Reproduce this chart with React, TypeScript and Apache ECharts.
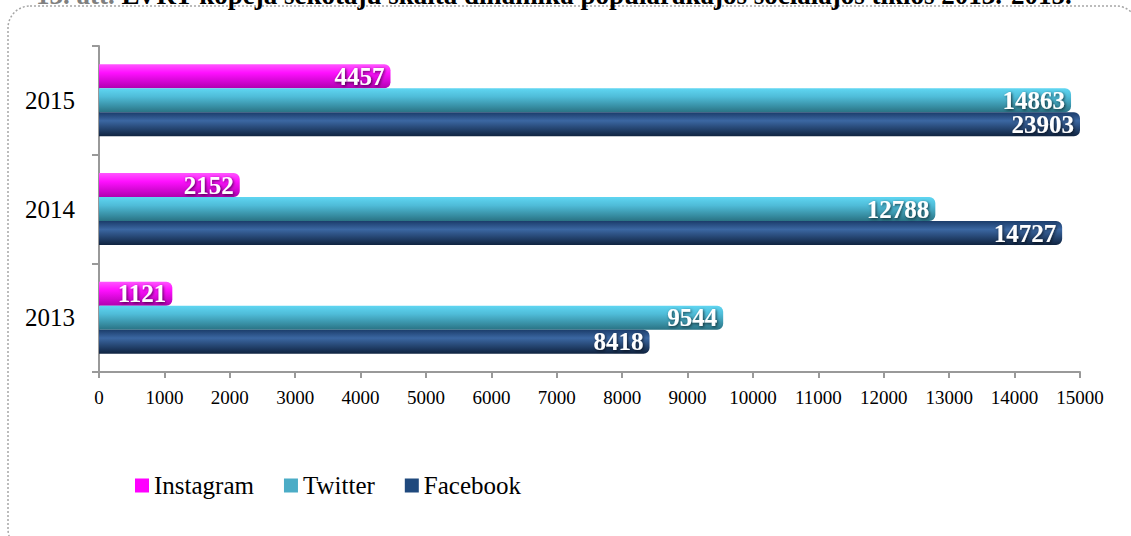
import React, { useEffect, useRef } from "react";
import * as echarts from "echarts";

const titleLead = "13. att.";
const titleText = "LVRT kopējā sekotāju skaita dinamika populārākajos sociālajos tīklos 2013.-2015.";
const years = ["2013", "2014", "2015"];
const seriesNames = ["Instagram", "Twitter", "Facebook"];
const legendColors = ["#FF00FF", "#4BACC6", "#1F497D"];
const instagram = [1121, 2152, 4457];
const twitter = [9544, 12788, 14863];
const facebook = [8418, 14727, 23903];

const FONT = "'Liberation Serif', 'Times New Roman', serif";

function grad(top: string, mid: string, bottom: string) {
  return new echarts.graphic.LinearGradient(0, 0, 0, 1, [
    { offset: 0, color: top },
    { offset: 0.35, color: mid },
    { offset: 1, color: bottom },
  ]);
}

export default function App() {
  const ref = useRef<HTMLDivElement>(null);
  useEffect(() => {
    if (!ref.current) return;
    const chart = echarts.init(ref.current, undefined, { renderer: "svg" });
    const label = {
      show: true,
      position: "insideRight",
      distance: 6,
      color: "#ffffff",
      fontFamily: FONT,
      fontWeight: "bold",
      fontSize: 25,
      textShadowColor: "rgba(0,0,0,0.7)",
      textShadowBlur: 3,
      textShadowOffsetX: 1,
      textShadowOffsetY: 1,
    };
    const mk = (name: string, data: number[], color: any) => ({
      name,
      type: "bar",
      data,
      barWidth: 24,
      barGap: "0%",
      clip: true,
      itemStyle: { color, borderRadius: [0, 6, 6, 0] },
      label,
    });
    chart.setOption({
      animation: false,
      color: legendColors,
      graphic: [
        {
          type: "rect",
          shape: { x: 8, y: 6, width: 1130, height: 545, r: 22 },
          style: { fill: "none", stroke: "#a6a6a6", lineWidth: 1.5, lineDash: [2, 2] },
          silent: true,
        },
        {
          type: "text",
          x: 36,
          y: 8,
          style: {
            text: `{a|${titleLead}} {b|${titleText}}`,
            verticalAlign: "bottom",
            rich: {
              a: { fontFamily: FONT, fontWeight: "bold", fontSize: 27, fill: "#808080" },
              b: { fontFamily: FONT, fontWeight: "bold", fontSize: 27, fill: "#000000" },
            },
            font: `bold 27px ${FONT}`,
          },
          silent: true,
        },
      ],
      legend: {
        data: seriesNames.map((n, i) => ({ name: n, itemStyle: { color: legendColors[i] } })),
        left: 130,
        top: 468,
        icon: "rect",
        itemWidth: 14,
        itemHeight: 14,
        itemGap: 30,
        textStyle: { fontFamily: FONT, fontSize: 25, color: "#000" },
      },
      grid: { left: 99, right: 51, top: 46, bottom: 164, containLabel: false },
      xAxis: {
        type: "value",
        min: 0,
        max: 15000,
        interval: 1000,
        splitLine: { show: false },
        axisLine: { show: true, lineStyle: { color: "#999", width: 2 } },
        axisTick: { show: true, length: 6, lineStyle: { color: "#999", width: 2 } },
        axisLabel: {
          fontFamily: FONT,
          fontSize: 19,
          color: "#000",
          margin: 16,
          formatter: (v: number) => String(v),
        },
      },
      yAxis: {
        type: "category",
        data: years,
        axisLine: { show: true, lineStyle: { color: "#999", width: 2 } },
        axisTick: { show: true, length: 7, lineStyle: { color: "#999", width: 2 } },
        axisLabel: { fontFamily: FONT, fontSize: 25, color: "#000", margin: 24 },
      },
      series: [
        mk("Instagram", instagram, grad("#ff55ff", "#ff10ff", "#b000b0")),
        mk("Twitter", twitter, grad("#5fd6f2", "#4fbcd8", "#2a7384")),
        mk("Facebook", facebook, grad("#1b3c6a", "#3b67a2", "#0f2340")),
      ],
    });
    return () => chart.dispose();
  }, []);
  return <div ref={ref} style={{ width: 1131, height: 536, position: "absolute", left: 0, top: 0 }} />;
}
